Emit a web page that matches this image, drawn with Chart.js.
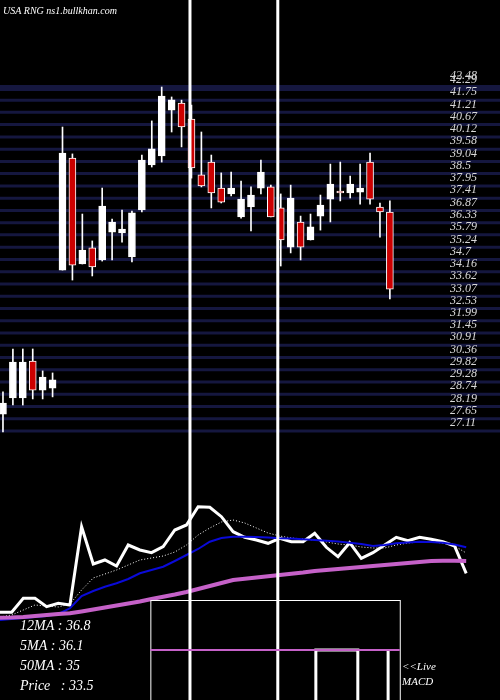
<!DOCTYPE html>
<html>
<head>
<meta charset="utf-8">
<script src="https://cdn.jsdelivr.net/npm/chart.js@4"></script>
<style>
  html, body { margin: 0; padding: 0; background: #000; }
  canvas { display: block; }
</style>
</head>
<body>
<canvas id="chart" width="500" height="700"></canvas>
<script>
// candles: open, close, high, low
let opens  = [27.51,28.22,28.22,29.86,28.57,28.66,33.88,38.84,34.15,34.86,34.33,35.56,35.52,34.46,36.54,38.53,38.93,40.96,41.27,40.56,38.09,38.66,37.51,37.25,36.23,36.67,37.51,37.56,36.63,34.90,36.01,35.21,36.27,37.02,37.38,37.29,37.33,38.66,36.67,36.45];
let closes = [28.00,29.81,29.81,28.57,29.15,29.02,39.06,34.10,34.77,34.02,36.71,36.00,35.70,36.41,38.75,39.24,41.58,41.41,40.21,38.40,37.60,37.29,36.89,37.51,37.02,37.20,38.22,36.23,35.21,37.07,34.90,35.79,36.76,37.69,37.29,37.69,37.51,37.02,36.45,33.04];
let highs  = [28.49,30.39,30.39,30.39,29.42,29.33,40.21,39.02,36.36,35.17,37.51,36.14,36.54,36.49,38.97,40.48,41.98,41.54,41.40,41.18,39.99,38.97,38.18,38.22,37.82,37.56,38.75,37.64,37.25,37.64,36.27,36.36,37.20,38.57,38.66,38.04,38.57,39.06,36.85,36.94];
let lows   = [26.72,27.91,27.91,28.18,28.18,28.27,33.88,33.44,34.15,33.62,34.28,34.33,35.12,34.24,36.45,38.44,38.66,39.99,39.33,37.95,37.56,36.63,36.85,37.16,36.18,35.61,37.25,36.23,34.06,34.64,34.33,35.21,35.65,36.01,36.94,37.07,36.80,36.80,35.34,32.60];

let tickLabels = [42.48,42.29,41.75,41.21,40.67,40.12,39.58,39.04,38.5,37.95,37.41,36.87,36.33,35.79,35.24,34.7,34.16,33.62,33.07,32.53,31.99,31.45,30.91,30.36,29.82,29.28,28.74,28.19,27.65,27.11];
let markerIdx = [18.85, 27.7];

// moving averages panel
let priceLine = [87.7,87.7,101.7,101.7,93.3,96.7,95,173.3,136,140,134,155,150,147.3,153.3,170,175,193.3,192.7,183.3,168.3,162.7,160,156.7,161.7,158.3,158.3,166.7,152.7,143.3,157.3,141.7,147.3,155,162.7,159.3,162.7,160.7,158.3,154,126.7];
let ma5  = [83,85,90,95,94,93,96,110,122,126,130,135,140,142,144,148,155,165,172,178,180,177,172,167,164,162,161,160,158,156,155,153,152,152,155,157,158,158,157,154,147];
let ma12 = [80,81,82,83,84,86,91.7,104,109,113.3,116.7,121,126.7,130,133.3,139,145,151,158.3,162,163.3,163.3,163,162.5,161.7,161.5,160.7,160,159.3,158.5,157.3,156,154,155,156.7,157.5,158.3,158,157.3,155.5,152.7];
let ma50 = [82.3,82.5,83,84,85,86,86.7,88.5,90.5,92.5,94.5,96.5,98.5,101,103.3,105.5,108,111,114,117,120,121.3,122.5,123.7,125,126.2,127.4,129,130,131,132,133,134,135,136,137,138,139,139.3,139.3,139];

// MACD box
let macdBox = [12.9, 34.3];
let macdLine = [{x:27.1,y:-1.2},{x:27.1,y:0},{x:30.7,y:0},{x:30.7,y:-1.2},{x:32,y:null},{x:33.3,y:0},{x:33.3,y:-1.2}];

let legendLines = ['12MA : 36.8', '5MA : 36.1', '50MA : 35', 'Price   : 33.5'];

const idx = opens.map((_, i) => i);
const maPts = arr => arr.map((v, i) => ({x: i, y: v}));

const overlay = {
  id: 'overlay',
  beforeDatasetsDraw(chart) {
    const c = chart.ctx, y = chart.scales.y;
    c.save();
    c.strokeStyle = '#15173f';
    tickLabels.slice(1).forEach((v, i) => {
      c.lineWidth = i === 0 ? 6 : 3;
      const py = y.getPixelForValue(v - 0.35);
      c.beginPath(); c.moveTo(0, py); c.lineTo(500, py); c.stroke();
    });
    c.restore();
  },
  afterDraw(chart) {
    const c = chart.ctx, x = chart.scales.x, y = chart.scales.y;
    const x2 = chart.scales.x2, y3 = chart.scales.y3;
    c.save();
    // right labels
    c.fillStyle = '#d8d8d8';
    c.font = 'italic 12px "Liberation Serif", "DejaVu Serif", serif';
    c.textBaseline = 'middle';
    tickLabels.forEach(v => c.fillText(String(v), 450, y.getPixelForValue(v)));
    // vertical markers
    c.strokeStyle = '#fff'; c.lineWidth = 3;
    markerIdx.forEach(m => {
      const px = x.getPixelForValue(m);
      c.beginPath(); c.moveTo(px, 0); c.lineTo(px, 700); c.stroke();
    });
    // MACD box
    const bx0 = x2.getPixelForValue(macdBox[0]), bx1 = x2.getPixelForValue(macdBox[1]);
    const by0 = y3.getPixelForValue(1), by1 = y3.getPixelForValue(0);
    c.lineWidth = 1;
    c.strokeRect(bx0 + 0.5, by0 + 0.5, bx1 - bx0, 120);
    c.strokeStyle = '#c561c8'; c.lineWidth = 2;
    c.beginPath(); c.moveTo(bx0, by1); c.lineTo(bx1, by1); c.stroke();
    // texts
    c.fillStyle = '#fff';
    c.textBaseline = 'alphabetic';
    c.font = 'italic 10px "Liberation Serif", serif';
    c.fillText('USA RNG ns1.bullkhan.com', 3, 14);
    c.font = 'italic 14px "Liberation Serif", "DejaVu Serif", serif';
    legendLines.forEach((t, i) => c.fillText(t, 20, 630 + i * 20));
    c.font = 'italic 11px "Liberation Serif", serif';
    c.fillText('<<Live', 402, 670);
    c.fillText('MACD', 402, 685);
    c.restore();
  }
};

new Chart(document.getElementById('chart'), {
  data: {
    datasets: [
      {type: 'bar', data: idx.map(i => ({x: i, y: [lows[i], highs[i]]})),
       backgroundColor: '#fff', barThickness: 1, grouped: false, xAxisID: 'x', yAxisID: 'y', order: 2},
      {type: 'bar', data: idx.map(i => ({x: i, y: [opens[i], closes[i]]})),
       backgroundColor: idx.map(i => closes[i] >= opens[i] ? '#fff' : '#cc0000'),
       borderColor: '#fff', borderWidth: 1, borderSkipped: false,
       barThickness: 7, grouped: false, xAxisID: 'x', yAxisID: 'y', order: 1},
      {type: 'line', data: maPts(ma50), borderColor: '#c561c8', borderWidth: 4, pointRadius: 0, xAxisID: 'x2', yAxisID: 'y2'},
      {type: 'line', data: maPts(ma12), borderColor: '#0a0ad8', borderWidth: 2, pointRadius: 0, xAxisID: 'x2', yAxisID: 'y2'},
      {type: 'line', data: maPts(ma5), borderColor: '#fff', borderWidth: 1, borderDash: [1, 2], pointRadius: 0, xAxisID: 'x2', yAxisID: 'y2'},
      {type: 'line', data: maPts(priceLine), borderColor: '#fff', borderWidth: 3, pointRadius: 0, xAxisID: 'x2', yAxisID: 'y2'},
      {type: 'line', data: macdLine, borderColor: '#fff', borderWidth: 3, pointRadius: 0, spanGaps: false, xAxisID: 'x2', yAxisID: 'y3'}
    ]
  },
  options: {
    responsive: false,
    animation: false,
    layout: {padding: 0},
    plugins: {legend: {display: false}, tooltip: {enabled: false}},
    scales: {
      x:  {type: 'linear', display: false, offset: false, min: -0.3, max: 50.1},
      y:  {type: 'linear', display: false, min: 14.86, max: 45.83},
      x2: {type: 'linear', display: false, offset: false, min: 0, max: 42.9},
      y2: {type: 'linear', display: false, min: 0, max: 700},
      y3: {type: 'linear', display: false, min: -1, max: 13}
    }
  },
  plugins: [overlay]
});
</script>
</body>
</html>
